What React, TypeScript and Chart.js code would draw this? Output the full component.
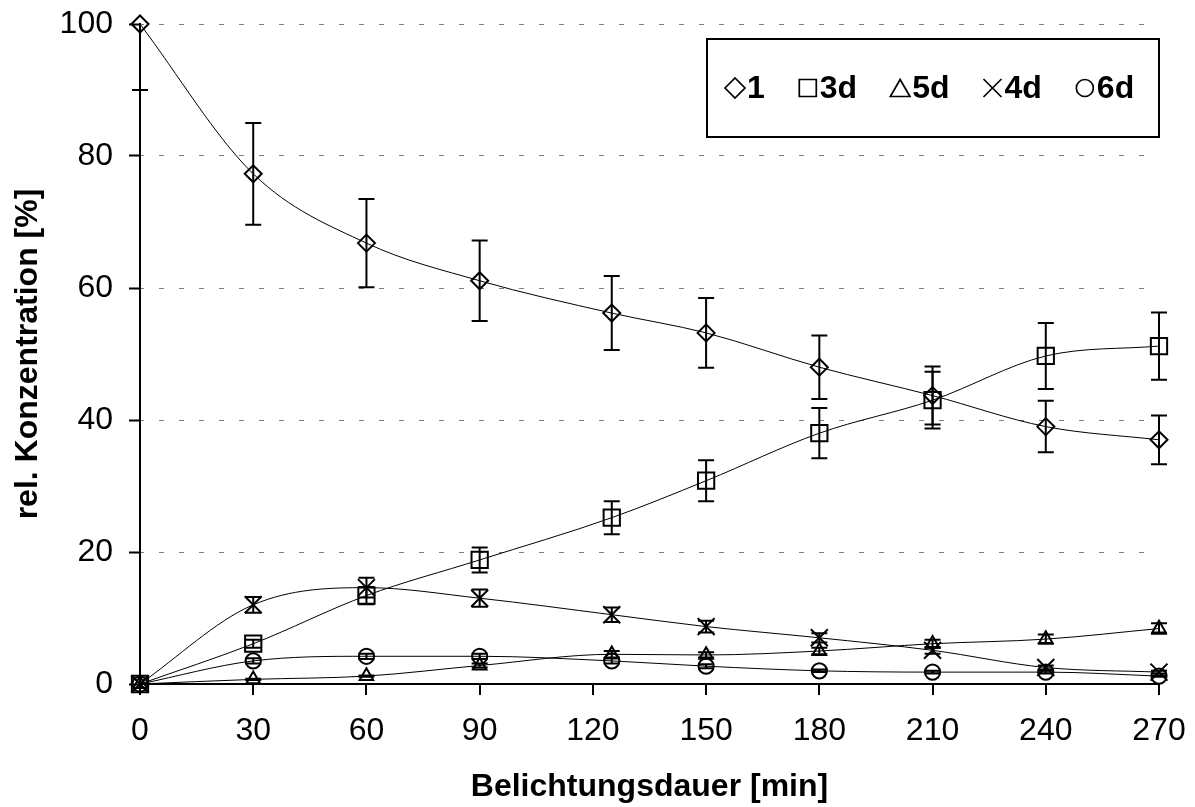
import React, { useEffect, useRef } from 'react';
import { Chart, registerables } from 'chart.js';

Chart.register(...registerables);

// ---- data ----
const times = [0, 30, 60, 90, 125, 150, 180, 210, 240, 270];
const xTickValues = [0, 30, 60, 90, 120, 150, 180, 210, 240, 270];
const yTickValues = [0, 20, 40, 60, 80, 100];

const seriesLabels = ['1', '3d', '5d', '4d', '6d'];

const c1 = [100, 77.3, 66.8, 61.1, 56.2, 53.2, 48.0, 43.7, 39.0, 37.0];
const e1 = [10, 7.7, 6.7, 6.1, 5.6, 5.3, 4.8, 4.4, 3.9, 3.7];

const c3d = [0, 6.1, 13.4, 18.8, 25.2, 30.8, 38.0, 43.0, 49.7, 51.2];
const e3d = [0, 0.6, 1.3, 1.9, 2.5, 3.1, 3.8, 4.3, 5.0, 5.1];

const c5d = [0, 0.7, 1.2, 2.8, 4.5, 4.4, 5.0, 6.1, 6.8, 8.4];
const e5d = [0, 0.1, 0.1, 0.3, 0.5, 0.4, 0.5, 0.6, 0.7, 0.8];

const c4d = [0, 12.0, 14.6, 13.0, 10.5, 8.7, 7.0, 5.1, 2.5, 1.8];
const e4d = [0, 1.2, 1.5, 1.3, 1.1, 0.9, 0.7, 0.5, 0.3, 0.2];

const c6d = [0, 3.5, 4.2, 4.2, 3.5, 2.7, 2.0, 1.8, 1.8, 1.2];
const e6d = [0, 0.4, 0.4, 0.4, 0.4, 0.3, 0.2, 0.2, 0.2, 0.1];

const FONT = '"Liberation Sans", Arial, Helvetica, sans-serif';

const seriesValues = [c1, c3d, c5d, c4d, c6d];
const seriesErrors = [e1, e3d, e5d, e4d, e6d];
const seriesStyles = ['rectRot', 'rect', 'triangle', 'crossRot', 'circle'];
const seriesRadius = [8.5, 11.5, 7.8, 12, 7.6];

// ---- plugins ----
const errorBarPlugin = {
  id: 'errorBars',
  afterDatasetsDraw(chart: any) {
    const { ctx, chartArea, scales } = chart;
    const xs = scales.x;
    const ys = scales.y;
    ctx.save();
    ctx.beginPath();
    ctx.rect(chartArea.left - 20, chartArea.top, chartArea.right - chartArea.left + 40, chartArea.bottom - chartArea.top + 20);
    ctx.clip();
    ctx.strokeStyle = '#000';
    ctx.lineWidth = 2;
    chart.data.datasets.forEach((ds: any) => {
      const errs: number[] = ds.errors || [];
      ds.data.forEach((p: any, i: number) => {
        const e = errs[i];
        if (!e) return;
        const px = xs.getPixelForValue(p.x);
        const yHi = ys.getPixelForValue(p.y + e);
        const yLo = ys.getPixelForValue(p.y - e);
        ctx.beginPath();
        ctx.moveTo(px, yHi);
        ctx.lineTo(px, yLo);
        ctx.moveTo(px - 8, yHi);
        ctx.lineTo(px + 8, yHi);
        ctx.moveTo(px - 8, yLo);
        ctx.lineTo(px + 8, yLo);
        ctx.stroke();
      });
    });
    ctx.restore();
  },
};

function drawLegendSymbol(ctx: CanvasRenderingContext2D, style: string, x: number, y: number) {
  ctx.beginPath();
  if (style === 'rectRot') {
    const r = 10;
    ctx.moveTo(x - r, y);
    ctx.lineTo(x, y - r);
    ctx.lineTo(x + r, y);
    ctx.lineTo(x, y + r);
    ctx.closePath();
  } else if (style === 'rect') {
    const h = 8.5;
    ctx.rect(x - h, y - h, 2 * h, 2 * h);
  } else if (style === 'triangle') {
    ctx.moveTo(x, y - 8.5);
    ctx.lineTo(x + 9.8, y + 8.5);
    ctx.lineTo(x - 9.8, y + 8.5);
    ctx.closePath();
  } else if (style === 'crossRot') {
    const h = 9;
    ctx.moveTo(x - h, y - h);
    ctx.lineTo(x + h, y + h);
    ctx.moveTo(x - h, y + h);
    ctx.lineTo(x + h, y - h);
  } else {
    ctx.arc(x, y, 8.5, 0, Math.PI * 2);
  }
  ctx.stroke();
}

const boxLegendPlugin = {
  id: 'boxLegend',
  afterDraw(chart: any) {
    const { ctx, chartArea } = chart;
    const right = chartArea.right;
    const left = right - 452;
    const top = chartArea.top + 15;
    const height = 98;
    ctx.save();
    ctx.fillStyle = '#fff';
    ctx.fillRect(left, top, right - left, height);
    ctx.strokeStyle = '#000';
    ctx.lineWidth = 2;
    ctx.strokeRect(left, top, right - left, height);
    const cy = top + height / 2;
    ctx.font = `bold 32px ${FONT}`;
    ctx.textBaseline = 'middle';
    ctx.textAlign = 'left';
    ctx.fillStyle = '#000';
    let x = left + 28;
    chart.data.datasets.forEach((ds: any) => {
      ctx.lineWidth = 1.7;
      drawLegendSymbol(ctx, ds.pointStyle, x, cy);
      ctx.fillText(ds.label, x + 12, cy + 1);
      const w = ctx.measureText(ds.label).width;
      x = x + 12 + w + 43;
    });
    ctx.restore();
  },
};

export default function App() {
  const ref = useRef<HTMLCanvasElement>(null);

  useEffect(() => {
    document.body.style.margin = '0';
    const datasets = seriesLabels.map((label, k) => ({
      label,
      data: times.map((t, i) => ({ x: t, y: seriesValues[k][i] })),
      errors: seriesErrors[k],
      pointStyle: seriesStyles[k],
      pointRadius: seriesRadius[k],
      pointHoverRadius: seriesRadius[k],
      pointBorderWidth: 2,
      pointBackgroundColor: 'rgba(0,0,0,0)',
      pointBorderColor: '#000',
      borderColor: '#000',
      borderWidth: 1,
      backgroundColor: 'rgba(0,0,0,0)',
      fill: false,
      tension: 0.4,
      cubicInterpolationMode: 'monotone',
      clip: false,
    }));

    const chart = new Chart(ref.current as HTMLCanvasElement, {
      type: 'line',
      data: { datasets } as any,
      options: {
        animation: false,
        responsive: false,
        devicePixelRatio: 1,
        events: [],
        layout: { padding: { top: 24, right: 36, left: 0, bottom: 0 } },
        plugins: {
          legend: { display: false },
          tooltip: { enabled: false },
        },
        scales: {
          x: {
            type: 'linear',
            min: 0,
            max: 270,
            afterBuildTicks: (s: any) => {
              s.ticks = xTickValues.map((v) => ({ value: v }));
            },
            afterFit: (s: any) => {
              s.height = 123;
              s.paddingLeft = 0;
              s.paddingRight = 0;
            },
            grid: {
              display: true,
              drawOnChartArea: false,
              drawTicks: true,
              tickLength: 11,
              tickColor: '#000',
              tickWidth: 2,
              lineWidth: 2,
              color: '#000',
            },
            border: { display: true, color: '#000', width: 2 },
            ticks: {
              color: '#000',
              font: { family: FONT, size: 32 },
              padding: 17,
              maxRotation: 0,
              minRotation: 0,
              autoSkip: false,
            },
            title: {
              display: true,
              text: 'Belichtungsdauer [min]',
              color: '#000',
              font: { family: FONT, size: 32, weight: 'bold' },
              padding: { top: 0, bottom: 1 },
            },
          },
          y: {
            type: 'linear',
            min: 0,
            max: 100,
            afterBuildTicks: (s: any) => {
              s.ticks = yTickValues.map((v) => ({ value: v }));
            },
            afterFit: (s: any) => {
              s.width = 140;
              s.paddingTop = 0;
              s.paddingBottom = 0;
            },
            grid: {
              display: true,
              drawOnChartArea: true,
              drawTicks: true,
              tickLength: 11,
              tickColor: '#000',
              tickWidth: 2,
              lineWidth: 1,
              color: (c: any) => (c.tick && c.tick.value === 0 ? 'rgba(0,0,0,0)' : '#808080'),
            },
            border: { display: true, color: '#000', width: 2, dash: [5, 15], dashOffset: 2 },
            ticks: {
              color: '#000',
              font: { family: FONT, size: 32 },
              padding: 16,
            },
            title: {
              display: true,
              text: 'rel. Konzentration [%]',
              color: '#000',
              font: { family: FONT, size: 32, weight: 'bold' },
              padding: { top: 9, bottom: 0 },
            },
          },
        },
      } as any,
      plugins: [errorBarPlugin, boxLegendPlugin],
    });
    return () => chart.destroy();
  }, []);

  return (
    <div style={{ width: 1195, height: 807 }}>
      <canvas ref={ref} width={1195} height={807} style={{ display: 'block' }} />
    </div>
  );
}
